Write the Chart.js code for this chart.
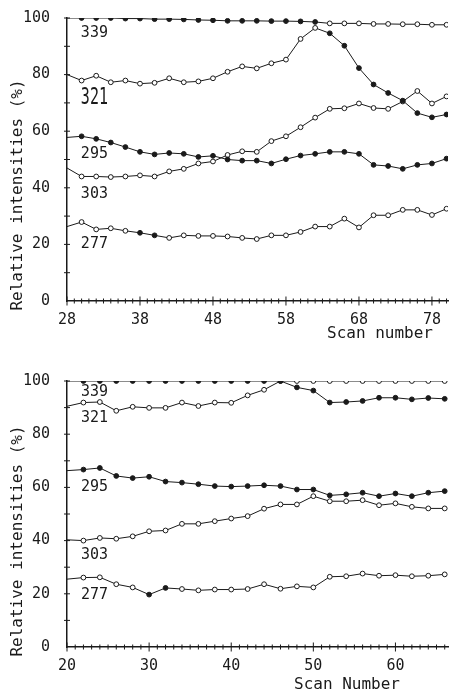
<!DOCTYPE html>
<html>
<head>
<meta charset="utf-8">
<script src="https://cdn.jsdelivr.net/npm/chart.js@4.4.0/dist/chart.umd.min.js"></script>
<style>
  html, body { margin: 0; padding: 0; background: #fff; }
  .panel { position: absolute; left: 0; width: 453px; }
  #p1 { top: 0; height: 346px; }
  #p2 { top: 346px; height: 347px; }
</style>
</head>
<body>
<div class="panel" id="p1"><canvas id="c1"></canvas></div>
<div class="panel" id="p2"><canvas id="c2"></canvas></div>
<script>
// 위쪽 그래프 데이터 (scan 28 ~ 80)
const topScans = [28, 30, 32, 34, 36, 38, 40, 42, 44, 46, 48, 50, 52, 54, 56, 58, 60, 62, 64, 66, 68, 70, 72, 74, 76, 78, 80]
const top339 = [100, 100, 100, 100, 99.8, 99.8, 99.6, 99.6, 99.5, 99.3, 99.2, 99, 99, 99, 98.9, 98.9, 98.8, 98.6, 98.1, 98.1, 98.1, 97.9, 97.9, 97.8, 97.8, 97.6, 97.6]
const top321 = [80, 77.9, 79.6, 77.3, 77.9, 76.8, 77.1, 78.7, 77.3, 77.6, 78.7, 81, 82.9, 82.2, 84, 85.3, 92.6, 96.5, 94.6, 90.2, 82.3, 76.5, 73.5, 70.8, 66.4, 64.9, 65.9]
const top295 = [57.8, 58.2, 57.3, 56, 54.4, 52.7, 51.8, 52.3, 52, 50.9, 51.3, 50, 49.6, 49.6, 48.6, 50.1, 51.4, 52, 52.7, 52.7, 52, 48.1, 47.7, 46.7, 48.1, 48.6, 50.3]
const top303 = [47, 44, 44, 43.8, 44, 44.4, 44, 45.8, 46.7, 48.6, 49.3, 51.6, 52.9, 52.7, 56.5, 58.2, 61.4, 64.8, 67.9, 68.1, 69.8, 68.2, 67.9, 70.5, 74.2, 69.8, 72.3]
const top277 = [26.3, 27.9, 25.3, 25.7, 24.8, 24.1, 23.2, 22.3, 23.2, 23, 23, 22.8, 22.3, 21.9, 23.2, 23.2, 24.4, 26.3, 26.3, 29.1, 26, 30.3, 30.3, 32.2, 32.2, 30.4, 32.6]

// 아래쪽 그래프 데이터 (scan 20 ~ 66)
const botScans = [20, 22, 24, 26, 28, 30, 32, 34, 36, 38, 40, 42, 44, 46, 48, 50, 52, 54, 56, 58, 60, 62, 64, 66]
const bot339 = [100, 100, 100, 100, 100, 100, 100, 100, 100, 100, 100, 100, 100, 100, 100, 100, 100, 100, 100, 100, 100, 100, 100, 100]
const bot321 = [90.5, 91.9, 92.1, 88.8, 90.3, 89.9, 89.9, 91.9, 90.6, 91.9, 91.8, 94.6, 96.7, 100, 97.6, 96.4, 91.9, 92.1, 92.5, 93.7, 93.7, 93.1, 93.6, 93.3]
const bot295 = [66.3, 66.7, 67.3, 64.3, 63.5, 64, 62.2, 61.8, 61.2, 60.5, 60.3, 60.5, 60.8, 60.5, 59.2, 59.2, 57, 57.4, 58, 56.7, 57.7, 56.7, 58, 58.6]
const bot303 = [40.3, 40, 41, 40.7, 41.6, 43.5, 43.8, 46.3, 46.3, 47.3, 48.3, 49.2, 52, 53.6, 53.6, 56.7, 54.8, 54.8, 55.2, 53.3, 54, 52.7, 52.1, 52.1]
const bot277 = [25.5, 26.1, 26.2, 23.6, 22.4, 19.7, 22.2, 21.8, 21.3, 21.6, 21.6, 21.8, 23.6, 21.9, 22.8, 22.4, 26.4, 26.6, 27.6, 26.8, 27, 26.6, 26.8, 27.3]

// 이온 이름
const ionNames = ['339', '321', '295', '303', '277']
const yTicks = [0, 20, 40, 60, 80, 100]

const INK = '#1a1a1a'
const FONT = '"DejaVu Sans Mono", "Liberation Mono", monospace'

// 선 하나 만들기 (filled: 점을 까맣게 칠할지)
function makeSet(xs, ys, filled) {
  return {
    data: xs.map((x, i) => ({ x: x, y: ys[i] })),
    borderColor: INK,
    borderWidth: 1,
    tension: 0,
    pointRadius: ctx => (ctx.raw && ctx.raw.x === xs[0]) ? 0 : 2.4,
    pointBackgroundColor: ctx => (ctx.raw && filled(ctx.raw.x)) ? INK : '#fff',
    pointBorderColor: INK,
    pointBorderWidth: 1
  }
}

// 눈금, 축 제목, 이온 라벨 그리기
const decor = {
  id: 'decor',
  afterDraw(chart, args, o) {
    const { ctx, chartArea: a } = chart
    const x = chart.scales.x, y = chart.scales.y
    ctx.save()
    ctx.strokeStyle = INK
    ctx.lineWidth = 1
    for (let v = Math.ceil(x.min); v <= x.max; v++) {
      const px = x.getPixelForValue(v)
      const h = (v - o.first) % 10 === 0 ? 4.5 : 2.5
      ctx.beginPath(); ctx.moveTo(px, a.bottom - h); ctx.lineTo(px, a.bottom + h); ctx.stroke()
    }
    for (let v = 10; v <= 100; v += 10) {
      const py = y.getPixelForValue(v)
      ctx.beginPath(); ctx.moveTo(a.left - 3, py); ctx.lineTo(a.left + 3, py); ctx.stroke()
    }
    ctx.fillStyle = INK
    ctx.font = '15px ' + FONT
    ctx.textBaseline = 'middle'
    ctx.textAlign = 'left'
    ionNames.forEach((n, i) => {
      const px = x.getPixelForValue(o.labelAt[i][0])
      const py = y.getPixelForValue(o.labelAt[i][1])
      if (o.tall === n) {
        ctx.save(); ctx.translate(px, py); ctx.scale(1, 1.5); ctx.fillText(n, 0, 0); ctx.restore()
      } else {
        ctx.fillText(n, px, py)
      }
    })
    ctx.font = '16px ' + FONT
    ctx.textAlign = 'right'
    ctx.fillText(o.xTitle, o.xTitleAt[0], o.xTitleAt[1])
    ctx.save()
    ctx.translate(18, 195)
    ctx.rotate(-Math.PI / 2)
    ctx.textAlign = 'center'
    ctx.fillText('Relative intensities (%)', 0, 0)
    ctx.restore()
    ctx.restore()
  }
}

function makeChart(el, sets, xMin, xMax, padTop, xHeight, deco) {
  return new Chart(document.getElementById(el), {
    type: 'line',
    data: { datasets: sets },
    plugins: [decor],
    options: {
      responsive: true,
      maintainAspectRatio: false,
      animation: false,
      layout: { padding: { top: padTop, right: 3, left: 0, bottom: 0 } },
      plugins: { legend: { display: false }, tooltip: { enabled: false }, decor: deco },
      scales: {
        x: {
          type: 'linear',
          min: xMin,
          max: xMax,
          afterBuildTicks: s => {
            const t = []
            for (let v = xMin; v <= xMax; v++) t.push({ value: v })
            s.ticks = t
          },
          afterFit: s => { s.height = xHeight },
          grid: { display: false },
          border: { display: true, color: INK, width: 1.5 },
          ticks: {
            autoSkip: false, maxRotation: 0, minRotation: 0, padding: 2,
            color: INK, font: { family: FONT, size: 15 },
            callback: v => ((v - xMin) % 10 === 0 ? String(v) : '')
          }
        },
        y: {
          min: 0,
          max: 100,
          afterBuildTicks: s => { s.ticks = yTicks.map(v => ({ value: v })) },
          afterFit: s => { s.width = 67 },
          grid: { display: false },
          border: { display: true, color: INK, width: 1.5 },
          ticks: { padding: 9, color: INK, font: { family: FONT, size: 15 } }
        }
      }
    }
  })
}

// 위 그래프
makeChart('c1', [
  makeSet(topScans, top339, x => x <= 62),
  makeSet(topScans, top321, x => x >= 64),
  makeSet(topScans, top295, x => true),
  makeSet(topScans, top303, x => false),
  makeSet(topScans, top277, x => x === 38 || x === 40)
], 28, 80.2, 16, 45, {
  first: 28,
  labelAt: [[29.9, 94.5], [29.9, 71.5], [29.9, 52], [29.9, 37.8], [29.9, 20]],
  tall: '321',
  xTitle: 'Scan number',
  xTitleAt: [433, 334]
})

// 아래 그래프
makeChart('c2', [
  makeSet(botScans, bot339, x => x <= 46),
  makeSet(botScans, bot321, x => x >= 46),
  makeSet(botScans, bot295, x => true),
  makeSet(botScans, bot303, x => false),
  makeSet(botScans, bot277, x => x === 30 || x === 32)
], 20, 66.4, 35, 46, {
  first: 20,
  labelAt: [[21.7, 95.9], [21.7, 85.9], [21.7, 60], [21.7, 34.5], [21.7, 19.6]],
  tall: null,
  xTitle: 'Scan Number',
  xTitleAt: [400, 339]
})
</script>
</body>
</html>
